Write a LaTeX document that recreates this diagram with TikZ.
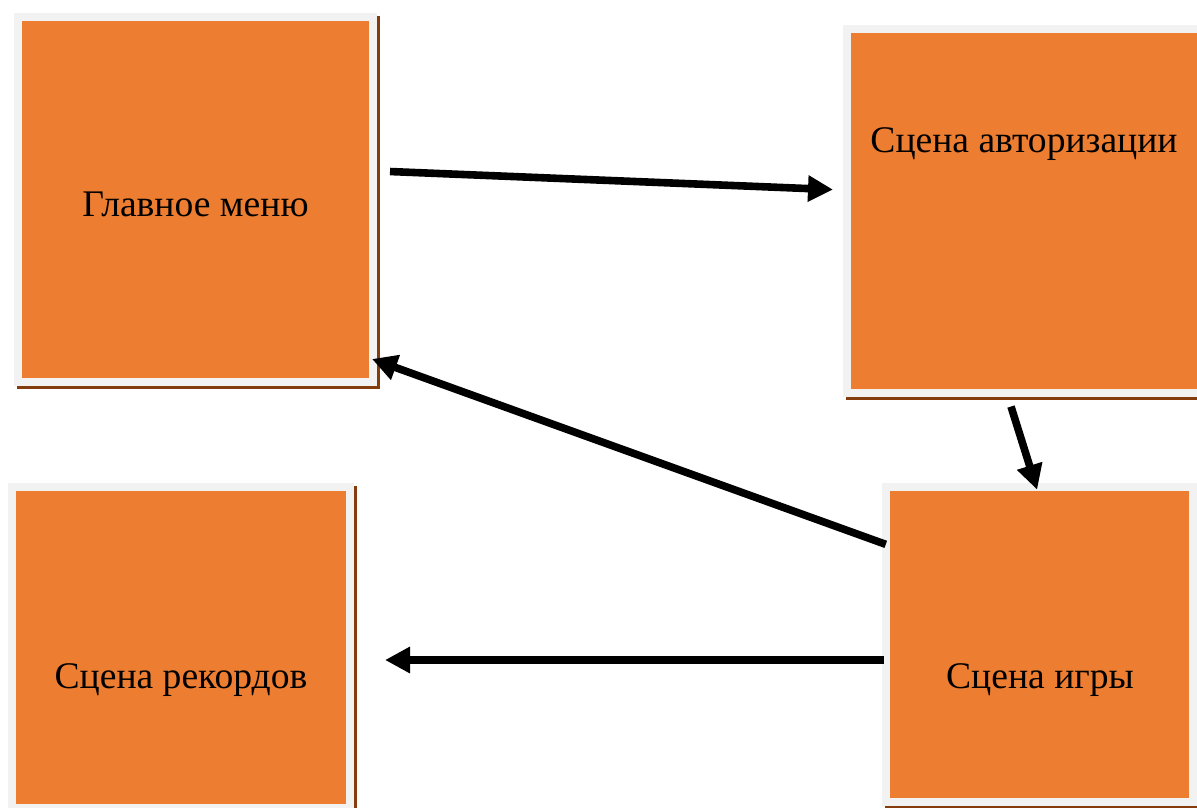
\documentclass[tikz,border=0pt]{standalone}
\usepackage{fontspec}
\setmainfont{Liberation Serif}
\usetikzlibrary{arrows.meta}

\definecolor{sceneorange}{HTML}{ED7D31}
\definecolor{framegray}{HTML}{F2F2F2}
\definecolor{shadowbrown}{HTML}{843C0C}

\tikzset{
  scene/.style={draw=framegray, line width=4pt, fill=sceneorange, inner sep=0pt,
    preaction={draw=shadowbrown, fill=shadowbrown, line width=4pt,
      transform canvas={shift={(1.5pt,-1.5pt)}}}},
  caption/.style={anchor=base, inner sep=0pt, font=\fontsize{18.8pt}{22pt}\selectfont},
  flow/.style={-{Triangle[length=12.5pt,width=12.5pt]}, line width=3.8pt, black}
}

\begin{document}
\begin{tikzpicture}[x=0.5pt,y=-0.5pt]
	\clip (0,0) rectangle (1197,807);

	% scenes
	\node[scene, minimum width=177.5pt, minimum height=182.5pt] (menu) at (195.5,199.5) {};
	\node[scene, minimum width=177.5pt, minimum height=182pt] (auth) at (1024.5,211) {};
	\node[scene, minimum width=169pt, minimum height=160.5pt] (records) at (181,647.5) {};
	\node[scene, minimum width=153.5pt, minimum height=157.5pt] (game) at (1039.5,644.5) {};

	\node[caption] (menutext) at (195.5,217) {Главное меню};
	\node[caption] (authtext) at (1024,153) {Сцена авторизации};
	\node[caption] (recordstext) at (181,688) {Сцена рекордов};
	\node[caption] (gametext) at (1040,688) {Сцена игры};

	% transitions
	\draw[flow, shorten <=6.5pt, shorten >=5pt] ([yshift=14.25pt]menu.east) -- ([yshift=10.5pt]auth.west);
	\draw[flow, shorten <=5pt, shorten >=-3.5pt] ([xshift=-8.25pt]auth.south) -- ([xshift=-2.25pt]game.north);
	\draw[flow, shorten <=-2pt] ([yshift=50.75pt]game.west) -- ([xshift=-2.5pt,yshift=13.5pt]menu.south east);
	\draw[flow, shorten <=-1pt, shorten >=15.5pt] ([yshift=-7.75pt]game.west) -- ([yshift=-6.25pt]records.east);
\end{tikzpicture}
\end{document}
